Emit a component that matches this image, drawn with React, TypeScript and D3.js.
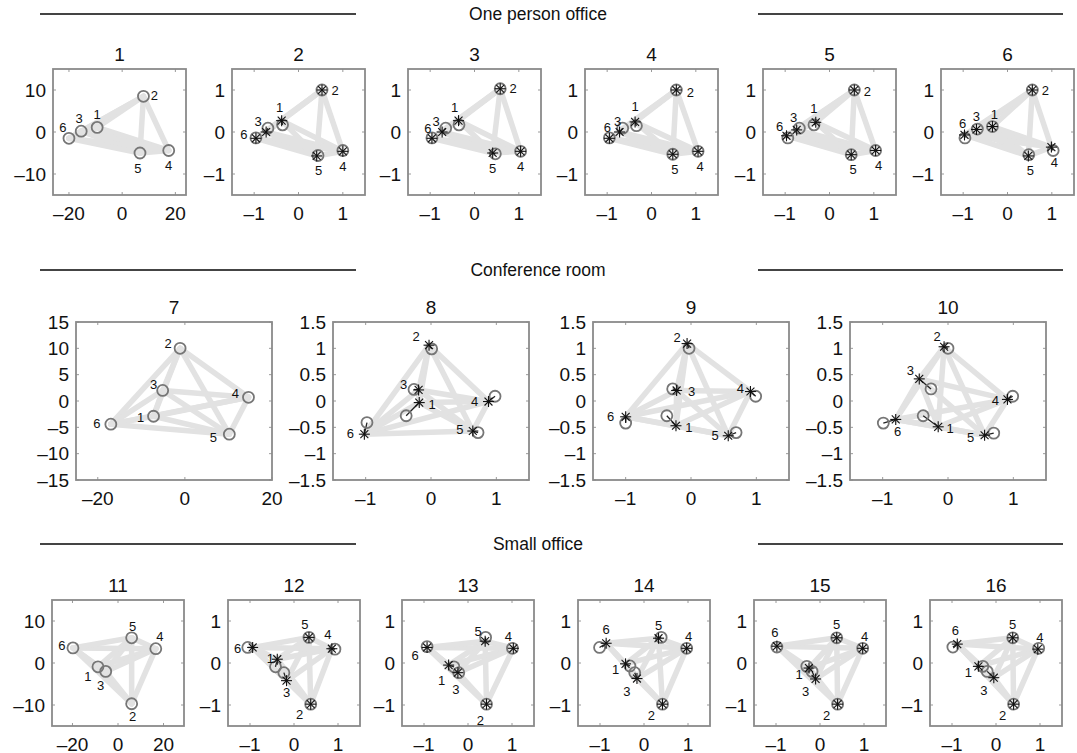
import React from "react";
import * as d3 from "d3";

type Pt = [number, number];

// ---- data ----
const sectionTitles = ["One person office", "Conference room", "Small office"];

const officeTitles = ["1", "2", "3", "4", "5", "6"];
const officeCircles: Pt[][] = [
  [[-9.4, 1.1], [8, 8.5], [-15.4, 0.2], [17.5, -4.4], [6.7, -5], [-20, -1.5]],
  [[-0.36, 0.17], [0.53, 1.0], [-0.69, 0.09], [1.0, -0.44], [0.44, -0.56], [-0.96, -0.14]],
  [[-0.35, 0.17], [0.58, 1.03], [-0.65, 0.09], [1.04, -0.46], [0.47, -0.52], [-0.96, -0.14]],
  [[-0.34, 0.15], [0.56, 1.0], [-0.65, 0.09], [1.05, -0.46], [0.48, -0.53], [-0.95, -0.14]],
  [[-0.35, 0.17], [0.56, 1.0], [-0.68, 0.09], [1.04, -0.44], [0.49, -0.54], [-0.94, -0.14]],
  [[-0.34, 0.13], [0.56, 1.0], [-0.68, 0.07], [1.03, -0.44], [0.48, -0.54], [-0.96, -0.14]],
];
const officeStars: (Pt[] | null)[] = [
  null,
  [[-0.38, 0.27], [0.53, 1.0], [-0.73, 0.0], [1.0, -0.46], [0.41, -0.57], [-0.96, -0.15]],
  [[-0.36, 0.27], [0.58, 1.03], [-0.73, 0.0], [1.04, -0.46], [0.41, -0.5], [-0.96, -0.15]],
  [[-0.37, 0.24], [0.56, 1.0], [-0.72, 0.0], [1.05, -0.46], [0.48, -0.53], [-0.95, -0.15]],
  [[-0.31, 0.23], [0.56, 1.0], [-0.74, 0.05], [1.04, -0.44], [0.49, -0.54], [-0.97, -0.09]],
  [[-0.34, 0.13], [0.56, 1.0], [-0.7, 0.06], [0.99, -0.36], [0.47, -0.57], [-0.97, -0.07]],
];
const officeLabelOffsets: Pt[][] = [
  [[0, -13], [11, -1], [-2, -13], [0, 15], [-2, 15], [-6, -11]],
  [[-2, -13], [13, 0], [-8, -11], [0, 15], [2, 15], [-12, -4]],
  [[-4, -13], [13, 0], [-6, -11], [0, 15], [0, 15], [-4, -10]],
  [[0, -15], [14, 2], [-2, -11], [2, 15], [2, 15], [-2, -11]],
  [[-2, -14], [13, 1], [-3, -12], [3, 15], [2, 15], [-7, -9]],
  [[2, -12], [13, 0], [0, -13], [3, 15], [2, 15], [-2, -11]],
];

const confTitles = ["7", "8", "9", "10"];
const confCircles: Pt[][] = [
  [[-7.2, -2.9], [-1.1, 10], [-5.1, 2], [14.6, 0.7], [10.2, -6.3], [-17, -4.4]],
  [[-0.38, -0.28], [0.01, 0.99], [-0.26, 0.22], [0.98, 0.09], [0.72, -0.6], [-0.98, -0.41]],
  [[-0.37, -0.28], [-0.03, 1.0], [-0.28, 0.23], [0.99, 0.09], [0.69, -0.6], [-1.0, -0.42]],
  [[-0.38, -0.28], [0.0, 1.0], [-0.26, 0.23], [0.99, 0.09], [0.7, -0.61], [-0.99, -0.42]],
];
const confStars: (Pt[] | null)[] = [
  null,
  [[-0.18, -0.03], [-0.03, 1.06], [-0.19, 0.21], [0.88, -0.01], [0.64, -0.57], [-1.02, -0.63]],
  [[-0.23, -0.47], [-0.06, 1.09], [-0.22, 0.2], [0.91, 0.18], [0.57, -0.66], [-1.0, -0.3]],
  [[-0.15, -0.49], [-0.06, 1.03], [-0.44, 0.42], [0.91, 0.03], [0.56, -0.65], [-0.8, -0.35]],
];
const confLabelOffsets: Pt[][] = [
  [[-13, 1], [-12, -5], [-9, -6], [-13, -4], [-16, 3], [-14, -1]],
  [[13, 2], [-13, -9], [-15, -5], [-14, 0], [-13, -2], [-14, -1]],
  [[13, 2], [-10, -6], [15, 1], [-10, -3], [-13, 0], [-15, 0]],
  [[12, 2], [-7, -10], [-9, -8], [-12, 1], [-14, 2], [2, 12]],
];

const smallTitles = ["11", "12", "13", "14", "15", "16"];
const smallCircles: Pt[][] = [
  [[-8.8, -0.9], [6, -9.7], [-5.4, -2], [16.6, 3.4], [6, 6], [-19.8, 3.6]],
  [[-0.42, -0.09], [0.38, -0.98], [-0.23, -0.23], [0.93, 0.33], [0.34, 0.61], [-1.05, 0.37]],
  [[-0.32, -0.09], [0.42, -0.98], [-0.21, -0.23], [1.01, 0.35], [0.4, 0.61], [-0.93, 0.39]],
  [[-0.32, -0.07], [0.42, -0.98], [-0.21, -0.23], [0.97, 0.35], [0.39, 0.61], [-1.01, 0.37]],
  [[-0.3, -0.08], [0.4, -0.98], [-0.18, -0.2], [0.97, 0.35], [0.38, 0.6], [-0.98, 0.38]],
  [[-0.3, -0.08], [0.4, -0.98], [-0.2, -0.2], [0.97, 0.35], [0.38, 0.6], [-0.98, 0.38]],
];
const smallStars: (Pt[] | null)[] = [
  null,
  [[-0.38, 0.09], [0.38, -0.98], [-0.17, -0.42], [0.86, 0.34], [0.34, 0.61], [-0.94, 0.37]],
  [[-0.44, -0.05], [0.42, -0.98], [-0.23, -0.23], [1.03, 0.35], [0.39, 0.52], [-0.93, 0.37]],
  [[-0.42, -0.02], [0.42, -0.98], [-0.16, -0.37], [0.97, 0.35], [0.33, 0.59], [-0.86, 0.47]],
  [[-0.25, -0.12], [0.4, -0.98], [-0.1, -0.38], [0.97, 0.35], [0.38, 0.6], [-0.98, 0.4]],
  [[-0.4, -0.08], [0.4, -0.98], [-0.05, -0.35], [0.95, 0.33], [0.38, 0.6], [-0.88, 0.45]],
];
const smallLabelOffsets: Pt[][] = [
  [[-10, 10], [1, 13], [-5, 14], [4, -12], [1, -11], [-11, -2]],
  [[-7, -1], [-11, 10], [0, 12], [-4, -14], [-4, -13], [-15, 1]],
  [[-7, 15], [-6, 16], [-2, 17], [-5, -12], [-7, -10], [-12, 8]],
  [[-10, 6], [-11, 11], [-10, 13], [2, -12], [0, -13], [0, -14]],
  [[-10, 6], [-11, 11], [-10, 13], [2, -12], [0, -13], [-2, -14]],
  [[-10, 6], [-11, 11], [-10, 13], [2, -12], [0, -13], [-2, -14]],
];

const bigXTicks = [-20, 0, 20];
const unitXTicks = [-1, 0, 1];
const bigYTicks = [-10, 0, 10];
const unitYTicks = [-1, 0, 1];
const confBigYTicks = [-15, -10, -5, 0, 5, 10, 15];
const confUnitYTicks = [-1.5, -1, -0.5, 0, 0.5, 1, 1.5];

// ---- layout ----
const FONT = "'Liberation Sans', Arial, Helvetica, sans-serif";
const fmt = (v: number) => (v < 0 ? "\u2013" + String(Math.abs(v)) : String(v));

const rows = [
  {
    titles: officeTitles, circles: officeCircles, stars: officeStars, offsets: officeLabelOffsets,
    lefts: [53, 232, 408, 585, 763, 941], width: 133, top: 69, height: 126,
    bigX: [-26, 24], bigY: [-15, 15], yTicksBig: bigYTicks, yTicksUnit: unitYTicks,
  },
  {
    titles: confTitles, circles: confCircles, stars: confStars, offsets: confLabelOffsets,
    lefts: [76, 333, 593, 850], width: 196, top: 322, height: 158,
    bigX: [-25, 20], bigY: [-15, 15], yTicksBig: confBigYTicks, yTicksUnit: confUnitYTicks,
  },
  {
    titles: smallTitles, circles: smallCircles, stars: smallStars, offsets: smallLabelOffsets,
    lefts: [52, 228, 402, 578, 754, 930], width: 132, top: 600, height: 126,
    bigX: [-29, 29], bigY: [-15, 15], yTicksBig: bigYTicks, yTicksUnit: unitYTicks,
  },
];
const headerY = [14, 270, 544];

const pairs: [number, number][] = [];
for (let i = 0; i < 6; i++) for (let j = i + 1; j < 6; j++) pairs.push([i, j]);

function Star({ x, y, r = 5.5 }: { x: number; y: number; r?: number }) {
  const d = r * 0.72;
  return (
    <g stroke="#111" strokeWidth={1.1}>
      <line x1={x - r} y1={y} x2={x + r} y2={y} />
      <line x1={x} y1={y - r} x2={x} y2={y + r} />
      <line x1={x - d} y1={y - d} x2={x + d} y2={y + d} />
      <line x1={x - d} y1={y + d} x2={x + d} y2={y - d} />
    </g>
  );
}

function Panel(props: {
  left: number; top: number; width: number; height: number;
  xDomain: number[]; yDomain: number[]; xTicks: number[]; yTicks: number[];
  title: string; circles: Pt[]; stars: Pt[] | null; offsets: Pt[];
}) {
  const { left, top, width, height, title, circles, stars, offsets } = props;
  const x = d3.scaleLinear().domain(props.xDomain).range([left, left + width]);
  const y = d3.scaleLinear().domain(props.yDomain).range([top + height, top]);
  const nodes = stars || circles;
  const tickLen = 3;
  return (
    <g>
      <text x={left + width / 2} y={top - 15} textAnchor="middle" dominantBaseline="central"
        fontSize={19} fill="#111">{title}</text>
      {pairs.map(([a, b], k) => (
        <line key={"e" + k} x1={x(nodes[a][0])} y1={y(nodes[a][1])} x2={x(nodes[b][0])} y2={y(nodes[b][1])}
          stroke="#e2e2e2" strokeWidth={5.5} strokeLinecap="round" />
      ))}
      {props.xTicks.map((t) => (
        <g key={"xt" + t} stroke="#9a9a9a" strokeWidth={1}>
          <line x1={x(t)} x2={x(t)} y1={top + height} y2={top + height - tickLen} />
          <line x1={x(t)} x2={x(t)} y1={top} y2={top + tickLen} />
        </g>
      ))}
      {props.yTicks.map((t) => (
        <g key={"yt" + t} stroke="#9a9a9a" strokeWidth={1}>
          <line x1={left} x2={left + tickLen} y1={y(t)} y2={y(t)} />
          <line x1={left + width} x2={left + width - tickLen} y1={y(t)} y2={y(t)} />
        </g>
      ))}
      <rect x={left} y={top} width={width} height={height} fill="none" stroke="#8a8a8a" strokeWidth={1.8} />
      {props.xTicks.map((t) => (
        <text key={"xl" + t} x={x(t)} y={top + height + 18} textAnchor="middle" dominantBaseline="central"
          fontSize={19} fill="#111">{fmt(t)}</text>
      ))}
      {props.yTicks.map((t) => (
        <text key={"yl" + t} x={left - 7} y={y(t)} textAnchor="end" dominantBaseline="central"
          fontSize={19} fill="#111">{fmt(t)}</text>
      ))}
      {stars && circles.map((c, i) => (
        <line key={"d" + i} x1={x(c[0])} y1={y(c[1])} x2={x(stars[i][0])} y2={y(stars[i][1])}
          stroke="#222" strokeWidth={1.3} />
      ))}
      {circles.map((c, i) => (
        <circle key={"c" + i} cx={x(c[0])} cy={y(c[1])} r={5.5} fill="none" stroke="#767676" strokeWidth={1.8} />
      ))}
      {stars && stars.map((s, i) => <Star key={"s" + i} x={x(s[0])} y={y(s[1])} />)}
      {nodes.map((n, i) => (
        <text key={"n" + i} x={x(n[0]) + offsets[i][0]} y={y(n[1]) + offsets[i][1]} textAnchor="middle"
          dominantBaseline="central" fontSize={13} fill="#111">{String(i + 1)}</text>
      ))}
    </g>
  );
}

export default function App() {
  return (
    <svg width={1077} height={753} style={{ position: "absolute", left: 0, top: 0, background: "#fff" }}
      fontFamily={FONT}>
      {rows.map((row, r) => (
        <g key={"h" + r}>
          <line x1={40} x2={356} y1={headerY[r]} y2={headerY[r]} stroke="#444" strokeWidth={2} />
          <line x1={758} x2={1063} y1={headerY[r]} y2={headerY[r]} stroke="#444" strokeWidth={2} />
          <text x={538} y={headerY[r]} textAnchor="middle" dominantBaseline="central" fontSize={17.5} fill="#111">
            {sectionTitles[r]}
          </text>
        </g>
      ))}
      {rows.map((row, r) =>
        row.titles.map((t, p) => {
          const big = p === 0;
          return (
            <Panel key={r + "-" + p} left={row.lefts[p]} top={row.top} width={row.width} height={row.height}
              xDomain={big ? row.bigX : [-1.5, 1.5]} yDomain={big ? row.bigY : [-1.5, 1.5]}
              xTicks={big ? bigXTicks : unitXTicks} yTicks={big ? row.yTicksBig : row.yTicksUnit}
              title={t} circles={row.circles[p]} stars={row.stars[p]} offsets={row.offsets[p]} />
          );
        })
      )}
    </svg>
  );
}
